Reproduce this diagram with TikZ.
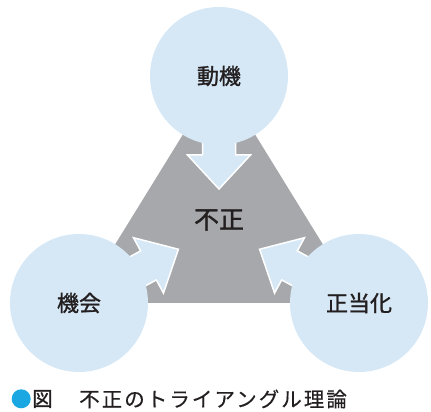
\documentclass[tikz,border=0pt]{standalone}
\usepackage{fontspec}
\newfontfamily\cjk{Noto Sans CJK JP}[FakeBold=0.4]
\newfontfamily\cjkb{Noto Sans CJK JP}[FakeBold=1.3]
\definecolor{circblue}{RGB}{214,232,246}
\definecolor{trigray}{RGB}{167,168,171}
\definecolor{inkdark}{RGB}{35,31,32}
\definecolor{bulletcyan}{RGB}{27,168,226}
\tikzset{
  circnode/.style={circle, fill=circblue, minimum size=138pt, inner sep=0pt, text=inkdark, font=\cjkb\fontsize{22}{24}\selectfont},
  arrowshape/.style={fill=circblue, draw=white, line width=1.5pt, line join=miter},
  inarrow/.pic={\path[arrowshape] (50,-16.5) -- (79,-16.5) -- (79,-31.5) -- (113,0) -- (79,31.5) -- (79,16.5) -- (50,16.5) -- cycle;},
}
\begin{document}
\begin{tikzpicture}[x=1pt,y=1pt]
\useasboundingbox (0,0) rectangle (431,412);
\coordinate (cT) at (219,336);
\coordinate (cL) at (79,109);
\coordinate (cR) at (359,109);
\fill[trigray] (cT) -- (cL) -- (cR) -- cycle;
\pic[rotate=-90] at (cT) {inarrow};
\pic[rotate=28.4] at (cL) {inarrow};
\pic[rotate=151.6] at (cR) {inarrow};
\node[circnode] (motive) at (cT) {動機};
\node[circnode] (chance) at (cL) {機会};
\node[circnode] (justify) at (cR) {正当化};
\node[text=inkdark, font=\cjkb\fontsize{25}{27}\selectfont, inner sep=0pt] (fraud) at (219,192) {不正};
\fill[bulletcyan] (21.2,13.2) circle (9.5);
\node[anchor=west, inner sep=0pt, text=inkdark, font=\cjkb\fontsize{20.5}{22}\selectfont] (figlabel) at (32,13) {図};
\node[anchor=west, inner sep=0pt, text=inkdark, font=\cjk\fontsize{20.5}{22}\selectfont\addfontfeature{LetterSpace=10}] (caption) at (79,13) {不正のトライアングル理論};
\end{tikzpicture}
\end{document}
